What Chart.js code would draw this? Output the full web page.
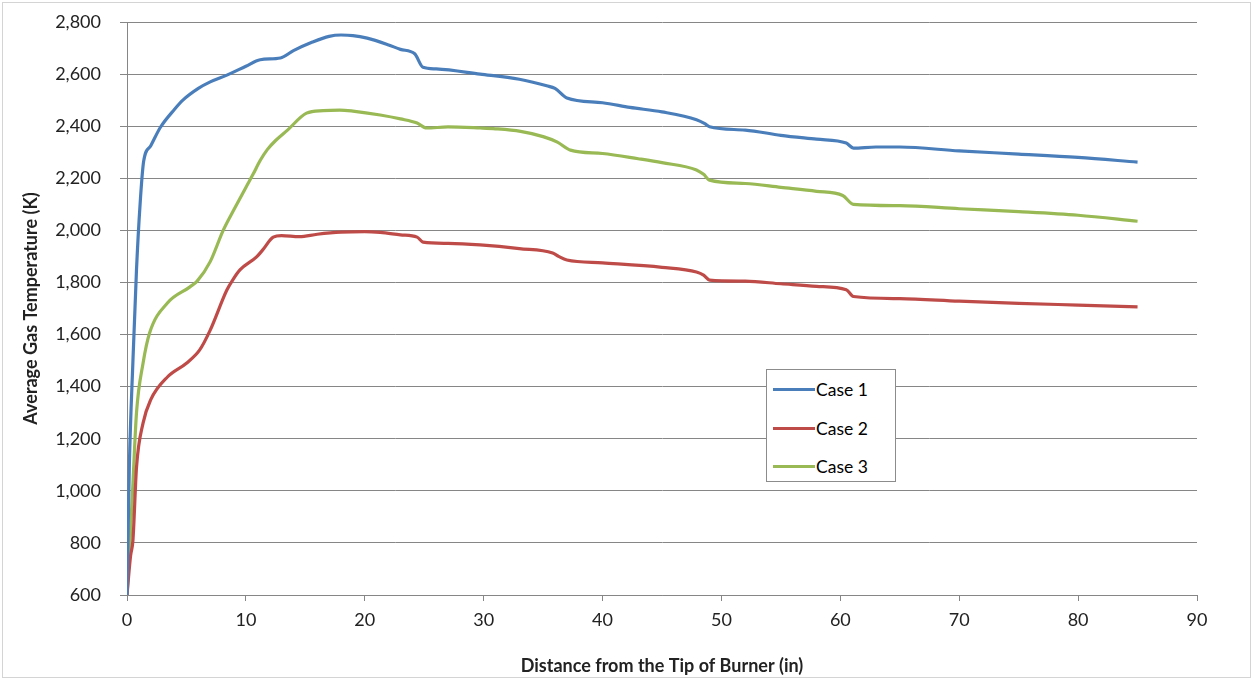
<!DOCTYPE html>
<html>
<head>
<meta charset="utf-8">
<script src="https://cdn.jsdelivr.net/npm/chart.js@4"></script>
<style>
  html, body { margin: 0; padding: 0; background: #fff; }
  #wrap { position: relative; width: 1254px; height: 681px; }
  #frame { position: absolute; left: 2px; top: 2px; right: 3px; bottom: 3px; border: 1px solid #d4d4d4; pointer-events: none; }
  #legend { position: absolute; left: 766px; top: 369px; width: 130px; height: 113px; box-sizing: border-box;
            border: 1px solid #8c8c8c; background: #fff; font-family: Lato, "Open Sans", sans-serif; font-size: 17.5px; color: #000; }
  .item { position: absolute; left: 6px; height: 20px; display: flex; align-items: center; }
  .item span.ln { display: inline-block; width: 42px; height: 3px; margin-right: 1px; }
</style>
</head>
<body>
<div id="wrap">
  <canvas id="chart" width="1254" height="681"></canvas>
  <div id="frame"></div>
  <div id="legend"></div>
</div>
<script>
// Series names and colours
const seriesNames = ['Case 1', 'Case 2', 'Case 3'];
const seriesColors = ['#4A7EBB', '#BE4B48', '#98B954'];

// Axis ticks
const xTicks = [0, 10, 20, 30, 40, 50, 60, 70, 80, 90];
const yTicks = [600, 800, 1000, 1200, 1400, 1600, 1800, 2000, 2200, 2400, 2600, 2800];

// Case 1 (distance in, temperature K)
const case1X = [0, 0.2, 0.5, 0.8, 1.1, 1.4, 2, 2.8, 4, 4.7, 6, 7, 8.4, 10, 11.2, 12.9, 14, 15.6, 17, 18, 19, 20.2, 22, 23, 24.2, 24.9, 26, 29.7, 33, 35.3, 36, 37, 40, 42.3, 45, 47.9, 48.6, 49, 52, 55, 58, 60.5, 61.1, 63, 65, 70, 75, 80, 85];
const case1Y = [600, 1100, 1500, 1850, 2100, 2265, 2325, 2395, 2465, 2500, 2545, 2570, 2596, 2630, 2655, 2662, 2690, 2723, 2745, 2750, 2748, 2738, 2712, 2695, 2678, 2626, 2620, 2600, 2580, 2555, 2545, 2508, 2490, 2472, 2455, 2425, 2410, 2398, 2385, 2365, 2350, 2335, 2316, 2320, 2320, 2305, 2293, 2280, 2262];

// Case 2
const case2X = [0, 0.3, 0.5, 0.8, 1.35, 2, 3.4, 5, 6.1, 7, 8.4, 8.9, 9.5, 10.9, 11.4, 12.3, 13, 14.5, 16, 18, 20, 21.3, 23, 24.4, 24.9, 27, 29.7, 33, 35.8, 36.3, 37, 40, 45, 47.9, 48.5, 49, 52, 55, 58, 60.5, 61.1, 65, 70, 75, 80, 85];
const case2Y = [600, 750, 810, 1090, 1260, 1350, 1437, 1490, 1540, 1617, 1771, 1810, 1848, 1898, 1924, 1974, 1980, 1976, 1985, 1993, 1995, 1992, 1983, 1974, 1955, 1950, 1944, 1930, 1913, 1900, 1886, 1875, 1858, 1840, 1828, 1809, 1805, 1795, 1785, 1772, 1746, 1738, 1728, 1720, 1713, 1706];

// Case 3
const case3X = [0, 0.25, 0.5, 0.8, 1.35, 1.9, 3.4, 5.3, 5.9, 7, 8.1, 9, 10, 10.6, 11.2, 11.8, 12.5, 13.5, 15.1, 16.5, 17.9, 19, 21.3, 23, 24.4, 25.2, 27, 29.7, 31, 33.1, 35, 36.2, 37.3, 40, 43, 45, 47.9, 48.5, 49, 52, 55, 58, 60.2, 61.1, 65, 70, 75, 80, 85];
const case3Y = [600, 800, 1030, 1300, 1490, 1606, 1721, 1783, 1805, 1880, 2001, 2080, 2165, 2215, 2268, 2310, 2345, 2385, 2450, 2460, 2462, 2458, 2443, 2428, 2412, 2393, 2397, 2393, 2390, 2380, 2360, 2339, 2308, 2295, 2275, 2260, 2232, 2215, 2193, 2180, 2165, 2150, 2134, 2100, 2095, 2083, 2072, 2058, 2035];

const FONT = 'Lato, "Open Sans", sans-serif';

function toPoints(xs, ys) {
  return xs.map(function (x, i) { return { x: x, y: ys[i] }; });
}

const seriesX = [case1X, case2X, case3X];
const seriesY = [case1Y, case2Y, case3Y];

const datasets = seriesNames.map(function (name, i) {
  return {
    label: name,
    data: toPoints(seriesX[i], seriesY[i]),
    borderColor: seriesColors[i],
    backgroundColor: seriesColors[i],
    borderWidth: 3.2,
    pointRadius: 0,
    cubicInterpolationMode: 'monotone',
    fill: false
  };
});

// HTML legend
const legendEl = document.getElementById('legend');
const legendTops = [9, 48, 86];
seriesNames.forEach(function (name, i) {
  const item = document.createElement('div');
  item.className = 'item';
  item.style.top = legendTops[i] + 'px';
  item.innerHTML = '<span class="ln" style="background:' + seriesColors[i] + '"></span><span>' + name + '</span>';
  legendEl.appendChild(item);
});

new Chart(document.getElementById('chart'), {
  type: 'line',
  data: { datasets: datasets },
  options: {
    responsive: false,
    animation: false,
    layout: { padding: { left: 10, right: 57, top: 22, bottom: 4 } },
    plugins: { legend: { display: false }, tooltip: { enabled: false } },
    scales: {
      x: {
        type: 'linear',
        min: 0,
        max: 90,
        afterBuildTicks: function (scale) { scale.ticks = xTicks.map(function (v) { return { value: v }; }); },
        afterFit: function (scale) { scale.height = 82; scale.paddingLeft = 0; scale.paddingRight = 0; },
        border: { display: true, color: '#868686', width: 1 },
        grid: { drawOnChartArea: false, drawTicks: true, tickLength: 6, color: '#868686' },
        ticks: { color: '#222', font: { family: FONT, size: 18 }, padding: 8, maxRotation: 0 },
        title: { display: true, text: 'Distance from the Tip of Burner (in)', color: '#222',
                 font: { family: FONT, size: 18, weight: 'bold' }, padding: { top: 4, bottom: 0 } }
      },
      y: {
        min: 600,
        max: 2800,
        afterBuildTicks: function (scale) { scale.ticks = yTicks.map(function (v) { return { value: v }; }); },
        afterFit: function (scale) { scale.width = 117; scale.paddingTop = 0; scale.paddingBottom = 0; },
        border: { display: true, color: '#868686', width: 1 },
        grid: { color: '#868686', lineWidth: 1, tickLength: 7 },
        ticks: { color: '#222', font: { family: FONT, size: 18 }, padding: 19,
                 callback: function (v) { return v.toLocaleString('en-US'); } },
        title: { display: true, text: 'Average Gas Temperature (K)', color: '#222',
                 font: { family: FONT, size: 18, weight: 'bold' }, padding: { top: 10, bottom: 0 } }
      }
    }
  }
});
</script>
</body>
</html>
